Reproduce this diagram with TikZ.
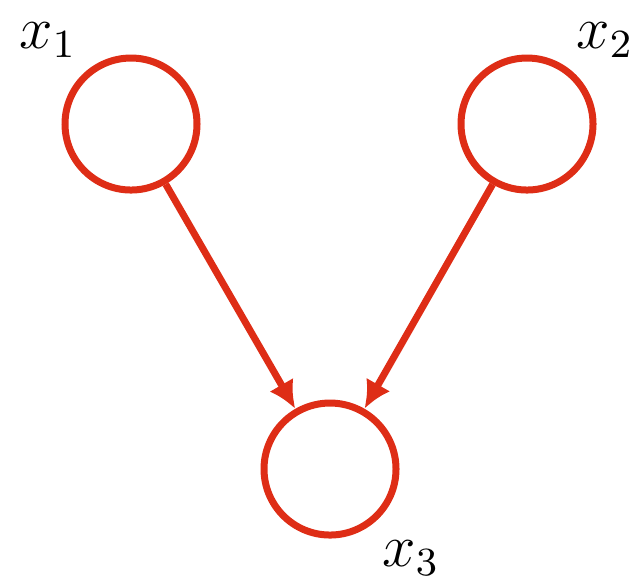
\documentclass[tikz,border=0pt]{standalone}
\usepackage{amsmath}
\usepackage{tikz}
\usetikzlibrary{arrows.meta,positioning}

\definecolor{netred}{RGB}{222,45,22}

\begin{document}
\begin{tikzpicture}[x=0.2pt, y=-0.2pt, >={Latex[length=5.5pt,width=5.5pt]}, line width=1.4pt,
    var/.style={draw=netred, circle, minimum size=26.4pt, inner sep=0pt},
    lbl/.style={font=\large, inner sep=0pt}]
    \useasboundingbox (0,0) rectangle (637,578);
    \node[var] (x1) at (131,124) {};
    \node[var] (x2) at (527,124) {};
    \node[var] (x3) at (330,469) {};
    \node[lbl] (l1) at (48,40) {$x_1$};
    \node[lbl] (l2) at (605,40) {$x_2$};
    \node[lbl] (l3) at (411,558) {$x_3$};
    \draw[->, netred] (x1) -- (x3);
    \draw[->, netred] (x2) -- (x3);
  \end{tikzpicture}
\end{document}
